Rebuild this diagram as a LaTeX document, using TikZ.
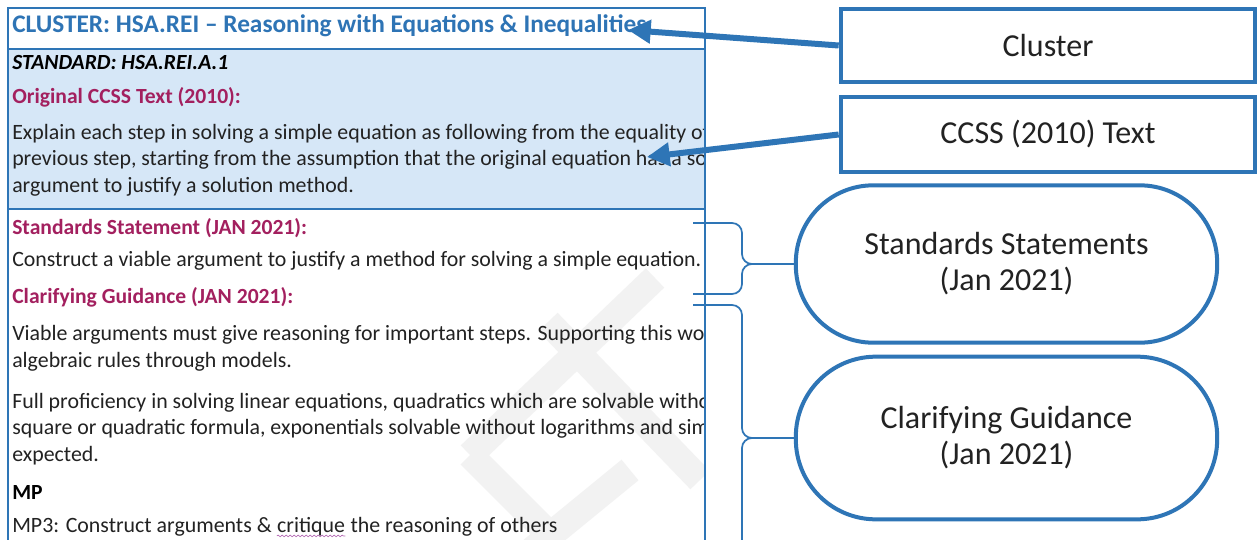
\documentclass[tikz,border=0pt]{standalone}
\usepackage{fontspec}
\setmainfont{Carlito}
\usetikzlibrary{arrows.meta,decorations.pathmorphing}
\definecolor{bblue}{HTML}{2E75B6}
\definecolor{lblue}{HTML}{D6E7F7}
\definecolor{mag}{HTML}{A3205F}
\definecolor{hblue}{HTML}{2E74B5}
\definecolor{body}{HTML}{222222}
\tikzset{
  txt/.style={anchor=west, inner sep=0pt, text=body, font=\fontsize{16.4}{19}\selectfont},
  hd/.style={anchor=west, inner sep=0pt, text=mag, font=\fontsize{16.2}{19}\selectfont\bfseries},
  labelbox/.style={draw=bblue, line width=3pt, fill=white, minimum width=311pt, minimum height=55pt,
    text=body, font=\fontsize{24}{27}\selectfont, inner sep=0pt},
  pill/.style={draw=bblue, line width=3pt, fill=white, minimum width=316pt,
    text=body, font=\fontsize{24}{27}\selectfont, align=center, inner sep=0pt},
  bigarrow/.style={draw=bblue, line width=4.5pt, -{Triangle[length=17pt,width=17pt]}},
  brace/.style={draw=bblue, line width=1.3pt},
  wm/.style={draw=black!5, line width=20pt, line cap=butt}
}
\begin{document}
\begin{tikzpicture}[x=0.75pt,y=-0.75pt]
\useasboundingbox (0,0) rectangle (1260,539);
\fill[white] (0,0) rectangle (1260,539);

% ---------- left document panel ----------
\fill[lblue] (8,49) rectangle (705,209);
\begin{scope}
  \clip (8,8) rectangle (705,545);
  % faint watermark
  \draw[wm] (655,278) -- (470,455);
  \draw[wm] (470,455) -- (560,545);
  \draw[wm] (548,322) -- (700,480);
  \draw[wm] (630,470) -- (520,560);
  % texts
  \node[anchor=west, inner sep=0pt, text=hblue, font=\fontsize{19}{22}\selectfont\bfseries] (cl) at (12,26)
    {CLUSTER: HSA.REI -- Reasoning with Equations \& Inequalities};
  \node[txt, font=\fontsize{16.2}{19}\selectfont\bfseries\itshape, text=black] (std) at (12,63) {STANDARD: HSA.REI.A.1};
  \node[hd] (orig) at (12,97) {Original CCSS Text (2010):};
  \node[txt] (o1) at (12,134) {Explain each step in solving a simple equation as following from the equality of numbers asserted at the};
  \node[txt] (o2) at (12,160) {previous step, starting from the assumption that the original equation has a solution. Construct a viable};
  \node[txt] (o3) at (12,187) {argument to justify a solution method.};
  \node[hd] (ssh) at (12,228) {Standards Statement (JAN 2021):};
  \node[txt] (ss1) at (12,261) {Construct a viable argument to justify a method for solving a simple equation.};
  \node[hd] (cgh) at (12,297) {Clarifying Guidance (JAN 2021):};
  \node[txt] (cg1) at (12,335) {Viable arguments must give reasoning for important steps. Supporting this work with};
  \node[txt] (cg2) at (12,362) {algebraic rules through models.};
  \node[txt] (cg3) at (12,403) {Full proficiency in solving linear equations, quadratics which are solvable without completing the};
  \node[txt] (cg4) at (12,429) {square or quadratic formula, exponentials solvable without logarithms and simple rational equations is};
  \node[txt] (cg5) at (12,456) {expected.};
  \node[txt, font=\fontsize{16.2}{19}\selectfont\bfseries, text=black] (mp) at (12,492) {MP};
  \node[txt] (mp3a) at (12,527) {MP3: Construct arguments \&\ \null};
  \node[txt, anchor=base west] (crit) at (mp3a.base east) {critique};
  \node[txt, anchor=base west] (mp3b) at (crit.base east) {\ the reasoning of others};
  \draw[draw=violet!60, line width=0.5pt, decorate, decoration={snake, amplitude=0.6pt, segment length=3pt}]
    ([yshift=-2.5pt]crit.base west) -- ([yshift=-2.5pt]crit.base east);
\end{scope}
% panel borders
\draw[bblue, line width=1.5pt] (8,560) -- (8,8) -- (705,8) -- (705,560);
\draw[bblue, line width=2.2pt] (8,49) rectangle (705,209);

% ---------- right labels ----------
\node[labelbox] (clus) at (1048,45.5) {Cluster};
\node[labelbox, minimum height=56pt] (ccss) at (1048,134.5) {CCSS (2010) Text};
\node[pill, minimum height=118pt, rounded corners=58pt] (ssp) at (1006.5,264) {Standards Statements\\(Jan 2021)};
\node[pill, minimum height=122pt, rounded corners=60pt] (cgp) at (1006.5,438) {Clarifying Guidance\\(Jan 2021)};

% ---------- arrows ----------
\coordinate (t1) at (628,30);
\coordinate (t2) at (647,157);
\draw[bigarrow] (clus.west) -- (t1);
\draw[bigarrow] (ccss.west) -- (t2);

% ---------- braces ----------
\draw[brace] (693,223) -- (732,223) to[out=0,in=90] (742,233) -- (742,254)
  to[out=-90,in=180] (752,264) -- (ssp.west);
\draw[brace] (752,264) to[out=180,in=90] (742,274) -- (742,284) to[out=-90,in=0] (732,294) -- (693,294);
\draw[brace] (693,305) -- (732,305) to[out=0,in=90] (742,315) -- (742,428)
  to[out=-90,in=180] (752,438) -- (cgp.west);
\draw[brace] (752,438) to[out=180,in=90] (742,448) -- (742,545);
\end{tikzpicture}
\end{document}
